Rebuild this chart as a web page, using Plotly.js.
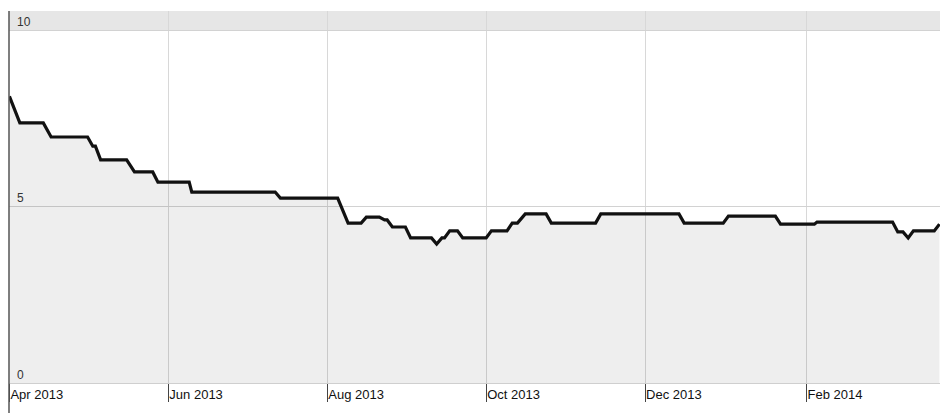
<!DOCTYPE html>
<html>
<head>
<meta charset="utf-8">
<script src="https://cdn.plot.ly/plotly-3.0.1.min.js"></script>
<style>html,body{margin:0;padding:0;background:#fff;}#chart{width:940px;height:413px;}</style>
</head>
<body>
<div id="chart"></div>
<script>
const dates = [
  "2013-04-01","2013-04-03","2013-04-05","2013-04-14","2013-04-17","2013-05-01","2013-05-03","2013-05-04",
  "2013-05-06","2013-05-16","2013-05-19","2013-05-26","2013-05-28","2013-06-09","2013-06-10","2013-07-12",
  "2013-07-14","2013-08-05","2013-08-09","2013-08-14","2013-08-16","2013-08-21","2013-08-23","2013-08-24",
  "2013-08-26","2013-08-31","2013-09-02","2013-09-10","2013-09-12","2013-09-14","2013-09-15","2013-09-17",
  "2013-09-20","2013-09-22","2013-10-01","2013-10-03","2013-10-09","2013-10-11","2013-10-13","2013-10-16",
  "2013-10-24","2013-10-26","2013-11-12","2013-11-14","2013-12-14","2013-12-16","2013-12-31","2014-01-02",
  "2014-01-20","2014-01-22","2014-02-04","2014-02-05","2014-03-06","2014-03-08","2014-03-10","2014-03-12",
  "2014-03-14","2014-03-22","2014-03-24"
];
const values = [
  8.12,7.73,7.37,7.37,6.97,6.97,6.71,6.71,
  6.32,6.32,5.98,5.98,5.69,5.69,5.41,5.41,
  5.24,5.24,4.53,4.53,4.70,4.70,4.62,4.62,
  4.42,4.42,4.11,4.11,3.94,4.11,4.11,4.31,
  4.31,4.11,4.11,4.31,4.31,4.53,4.53,4.79,
  4.79,4.53,4.53,4.79,4.79,4.53,4.53,4.73,
  4.73,4.50,4.50,4.56,4.56,4.28,4.28,4.11,
  4.31,4.31,4.50
];
const xTickVals = ["2013-04-01","2013-06-01","2013-08-01","2013-10-01","2013-12-01","2014-02-01"];
const xTickText = ["Apr 2013","Jun 2013","Aug 2013","Oct 2013","Dec 2013","Feb 2014"];
const yTickVals = [0,5,10];
const yTickText = ["0","5","10"];

const trace = {
  x: dates, y: values, type: "scatter", mode: "lines",
  line: {color: "#111", width: 3.2},
  fill: "tozeroy", fillcolor: "rgba(0,0,0,0.065)",
  hoverinfo: "skip"
};

const layout = {
  width: 940, height: 413,
  margin: {l: 9, r: 0, t: 11, b: 30},
  paper_bgcolor: "#fff", plot_bgcolor: "#fff",
  showlegend: false,
  xaxis: {
    type: "date",
    range: ["2013-03-31 20:00", "2014-03-24 05:00"],
    tickmode: "array", tickvals: xTickVals, ticktext: xTickText,
    ticks: "outside", ticklen: 18, tickwidth: 1, tickcolor: "#444",
    ticklabelposition: "outside right", ticklabelstandoff: -1,
    ticklabeloverflow: "allow",
    showgrid: true, gridcolor: "#d8d8d8", gridwidth: 1,
    showline: true, linecolor: "#cfcfcf", linewidth: 1,
    zeroline: false,
    tickfont: {family: "Liberation Sans, Arial, sans-serif", size: 13, color: "#111"}
  },
  yaxis: {
    range: [0, 10.54],
    tickmode: "array", tickvals: yTickVals, ticktext: yTickText,
    ticks: "", ticklabelposition: "inside top", ticklabelstandoff: 5,
    ticklabeloverflow: "allow",
    showgrid: true, gridcolor: "#d2d2d2", gridwidth: 1,
    zeroline: false, showline: false,
    tickfont: {family: "Liberation Sans, Arial, sans-serif", size: 12, color: "#333"}
  },
  shapes: [
    {type: "rect", xref: "paper", yref: "y", x0: 0, x1: 1, y0: 10, y1: 10.54,
     fillcolor: "#e6e6e6", line: {width: 0}, layer: "below"},
    {type: "line", xref: "paper", yref: "paper", x0: 0, x1: 0, y0: -30/372, y1: 1,
     line: {color: "#555", width: 1.5}}
  ]
};

Plotly.newPlot("chart", [trace], layout, {displayModeBar: false, staticPlot: true});
</script>
</body>
</html>
